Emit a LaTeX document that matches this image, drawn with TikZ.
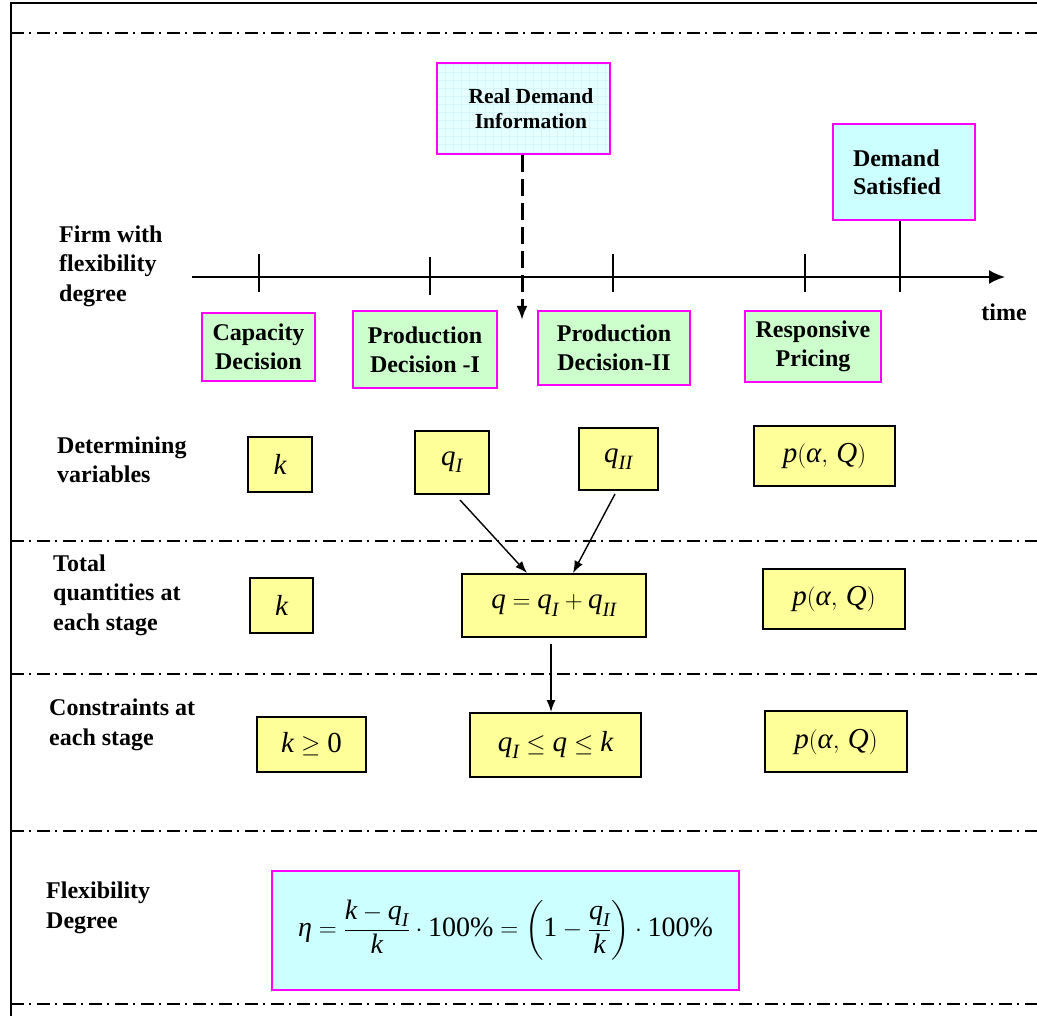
\documentclass[tikz,border=0pt]{standalone}
\usepackage{amsmath}
\usepackage{fontspec}
\setmainfont{Liberation Serif}
\usetikzlibrary{arrows.meta,calc}
\definecolor{edgemag}{RGB}{255,0,255}
\definecolor{stagegreen}{RGB}{204,255,204}
\definecolor{varyellow}{RGB}{255,255,153}
\definecolor{infocyan}{RGB}{204,255,255}
\definecolor{infobg}{RGB}{230,255,255}
\definecolor{gridcyan}{RGB}{212,246,250}
% italic variable set in the text serif
\newcommand{\vi}[1]{\textit{#1}}

\begin{document}
\begin{tikzpicture}[x=1pt,y=-1pt,
  lbl/.style={font=\bfseries\fontsize{24}{29.5}\selectfont, align=left, anchor=west, inner sep=0},
  stagebox/.style={draw=edgemag, line width=2.2pt, fill=stagegreen,
    font=\bfseries\fontsize{24}{29}\selectfont, align=center, inner sep=0},
  varbox/.style={draw=black, line width=2pt, fill=varyellow,
    font=\fontsize{29}{34}\selectfont, inner sep=0},
  eventbox/.style={draw=edgemag, line width=2.2pt, inner sep=0, align=left},
  sepline/.style={line width=1.5pt, dash pattern=on 13pt off 5pt on 2pt off 6pt},
  tickline/.style={line width=2pt},
  arr/.style={line width=1.4pt, -{Latex[length=12pt,width=9pt]}},
]
\useasboundingbox (0,0) rectangle (1037,1016);

% frame and row separators
\draw[line width=1.5pt] (11,1016) -- (11,3) -- (1037,3);
\foreach \yy in {33,541,674,831,1004}
  \draw[sepline] (11,\yy) -- (1037,\yy);

% events above the time axis
\node[eventbox, fill=infobg, minimum width=173pt, minimum height=91pt,
      font=\bfseries\fontsize{21.5}{25}\selectfont, align=center,
      path picture={\draw[gridcyan, line width=0.4pt, step=8pt]
        (path picture bounding box.south west) grid (path picture bounding box.north east);}]
  (rd) at (523.5,108.5) {\hspace*{15pt}Real Demand\\\hspace*{15pt}Information};
\node[eventbox, fill=infocyan, text width=102pt, inner xsep=20pt, minimum height=96pt,
      font=\bfseries\fontsize{24}{28}\selectfont]
  (ds) at (904,172) {Demand\\Satisfied};

% time axis
\coordinate (t0) at (192,277);
\coordinate (t1) at (1005,277);
\draw[line width=2pt, -{Latex[length=16pt,width=14pt]}] (t0) -- (t1);
\node[font=\bfseries\fontsize{24}{28}\selectfont, inner sep=0] (tm) at (1004,312) {time};

% ticks on the axis
\coordinate (k0a) at (259,254); \coordinate (k0b) at (259,292);
\coordinate (k1a) at (430,257); \coordinate (k1b) at (430,295);
\coordinate (k2a) at (613,254); \coordinate (k2b) at (613,292);
\coordinate (k3a) at (805,254); \coordinate (k3b) at (805,292);
\foreach \i in {0,1,2,3} \draw[tickline] (k\i a) -- (k\i b);
\coordinate (dsend) at (900,292);
\draw[tickline] (ds.south -| dsend) -- (dsend);

% arrival of demand information
\coordinate (rdend) at (522,320);
\draw[line width=3pt, dash pattern=on 17pt off 7pt, -{Latex[length=14pt,width=11pt]}]
  (rd.south -| rdend) -- (rdend);

% row labels
\node[lbl] (l0) at (59,266) {Firm with\\flexibility\\degree};
\node[lbl] (l1) at (57,460) {Determining\\variables};
\node[lbl] (l2) at (53,595) {Total\\quantities at\\each stage};
\node[lbl] (l3) at (49,725) {Constraints at\\each stage};
\node[lbl] (l4) at (46,908) {Flexibility\\Degree};

% decision stages
\node[stagebox, minimum width=113pt, minimum height=68pt] (s1) at (258.5,347) {Capacity\\Decision};
\node[stagebox, minimum width=144pt, minimum height=77pt] (s2) at (425,349.5) {Production\\Decision -I};
\node[stagebox, minimum width=152pt, minimum height=74pt] (s3) at (614,348) {Production\\Decision-II};
\node[stagebox, minimum width=136pt, minimum height=71pt] (s4) at (813,346.5) {Responsive\\Pricing};

% determining variables
\node[varbox, minimum width=64pt, minimum height=55pt] (v1) at (280,464.5) {$\vi{k}$};
\node[varbox, minimum width=74pt, minimum height=63pt] (v2) at (452,462.5) {$\vi{q}_{\vi{I}}$};
\node[varbox, minimum width=79pt, minimum height=62pt] (v3) at (618.5,459) {$\vi{q}_{\vi{II}}$};
\node[varbox, minimum width=141pt, minimum height=60pt] (v4) at (824.5,456) {$\vi{p}(\vi{α},\,\vi{Q})$};

% total quantities
\node[varbox, minimum width=63pt, minimum height=55pt] (t1b) at (281.5,605.5) {$\vi{k}$};
\node[varbox, minimum width=184pt, minimum height=63pt] (qs) at (554,605.5) {$\vi{q}=\vi{q}_{\vi{I}}+\vi{q}_{\vi{II}}$};
\node[varbox, minimum width=142pt, minimum height=60pt] (t3b) at (834,599) {$\vi{p}(\vi{α},\,\vi{Q})$};

% constraints
\node[varbox, minimum width=109pt, minimum height=55pt] (c1) at (311.5,744.5) {$\vi{k}\ge \text{0}$};
\node[varbox, minimum width=171pt, minimum height=64pt] (c2) at (555.5,745) {$\vi{q}_{\vi{I}}\le \vi{q}\le \vi{k}$};
\node[varbox, minimum width=142pt, minimum height=61pt] (c3) at (836,741.5) {$\vi{p}(\vi{α},\,\vi{Q})$};

% flexibility degree
\node[eventbox, fill=infocyan, minimum width=467pt, minimum height=119pt,
      font=\fontsize{28}{34}\selectfont]
  (eta) at (505.5,930.5)
  {$\vi{η}=\dfrac{\vi{k}-\vi{q}_{\vi{I}}}{\vi{k}}\cdot\text{100\%}
    =\biggl(\text{1}-\dfrac{\vi{q}_{\vi{I}}}{\vi{k}}\biggr)\cdot\text{100\%}$};

% flows between quantities
\draw[arr] ($(v2.south)+(8,5)$) -- ($(qs.north)+(-27,0)$);
\draw[arr] ($(v3.south)+(-3.5,3)$) -- ($(qs.north)+(19,0)$);
\draw[arr] ($(qs.south)+(-3,6)$) -- ($(c2.north)+(-4.5,0)$);
\end{tikzpicture}
\end{document}
